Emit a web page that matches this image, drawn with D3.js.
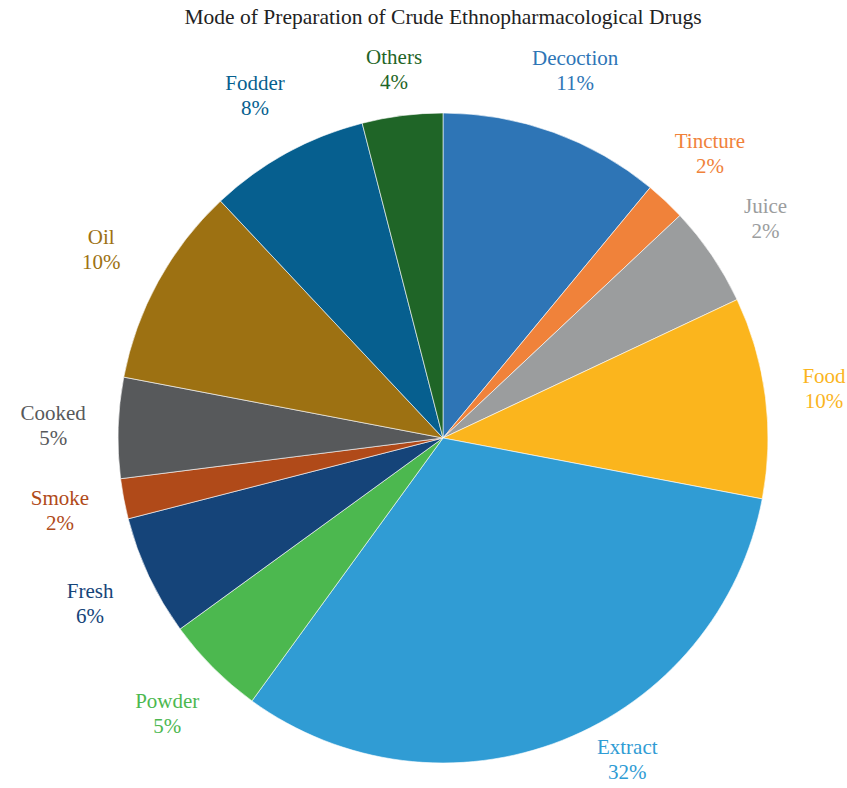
<!DOCTYPE html>
<html>
<head>
<meta charset="utf-8">
<script src="https://cdn.jsdelivr.net/npm/d3@7"></script>
<style>
  body { margin: 0; background: #fff; }
  svg text, svg tspan { font-family: "Liberation Serif", "Times New Roman", serif; }
</style>
</head>
<body>
<div id="pie-chart"></div>
<script>
// categories clockwise from 12 o'clock
const categories = ["Decoction", "Tincture", "Juice", "Food", "Extract", "Powder",
  "Fresh", "Smoke", "Cooked", "Oil", "Fodder", "Others"];
// slice sizes
const values = [11, 2, 5, 10, 32, 5, 6, 2, 5, 10, 8, 4];
// percentage labels as printed on the chart
const pctLabels = ["11%", "2%", "2%", "10%", "32%", "5%", "6%", "2%", "5%", "10%", "8%", "4%"];
const colors = ["#2e75b6", "#f0823a", "#9b9d9e", "#fbb51d", "#309cd4", "#4cb84f",
  "#154479", "#b04a19", "#57595b", "#9d7112", "#065f8f", "#1f6527"];

const width = 847,
  height = 788,
  cx = 443,
  cy = 438,
  radius = 325,
  labelRadius = 390,
  tuckedRadius = 371;

const pieData = categories.map((c, i) => ({ name: c, value: values[i], pct: pctLabels[i], color: colors[i] }));

const arcs = d3.pie().sort(null).value(d => d.value)(pieData);
const arc = d3.arc().innerRadius(0).outerRadius(radius);

const svg = d3.select("#pie-chart")
  .append("svg")
  .attr("width", width)
  .attr("height", height);

svg.append("text")
  .attr("x", cx)
  .attr("y", 24)
  .attr("text-anchor", "middle")
  .attr("font-size", 21.5)
  .attr("fill", "#222")
  .text("Mode of Preparation of Crude Ethnopharmacological Drugs");

const g = svg.append("g")
  .attr("transform", `translate(${cx},${cy})`);

g.append("g")
  .attr("stroke", "white")
  .attr("stroke-width", 0.6)
  .selectAll("path")
  .data(arcs)
  .join("path")
  .attr("fill", d => d.data.color)
  .attr("d", arc);

// label position: on a ring at the mid angle, kept inside the page and below the title
function labelPos(d) {
  const a = (d.startAngle + d.endAngle) / 2;
  let x = labelRadius * Math.sin(a),
    y = -labelRadius * Math.cos(a);
  const maxY = height - cy - 28,
    minY = 70 - cy;
  if (y > maxY) {
    y = maxY;
    x = Math.sign(Math.sin(a)) * Math.sqrt(tuckedRadius * tuckedRadius - y * y);
  }
  if (y < minY) y = minY;
  const maxX = width - cx - 23;
  if (x > maxX) x = maxX;
  return [x, y];
}

g.append("g")
  .attr("font-size", 21)
  .attr("text-anchor", "middle")
  .selectAll("text")
  .data(arcs)
  .join("text")
  .attr("fill", d => d.data.color)
  .attr("transform", d => `translate(${labelPos(d)})`)
  .selectAll("tspan")
  .data(d => [d.data.name, d.data.pct])
  .join("tspan")
  .attr("x", 0)
  .attr("y", (d, i) => i ? 19 : -6)
  .text(d => d);
</script>
</body>
</html>
